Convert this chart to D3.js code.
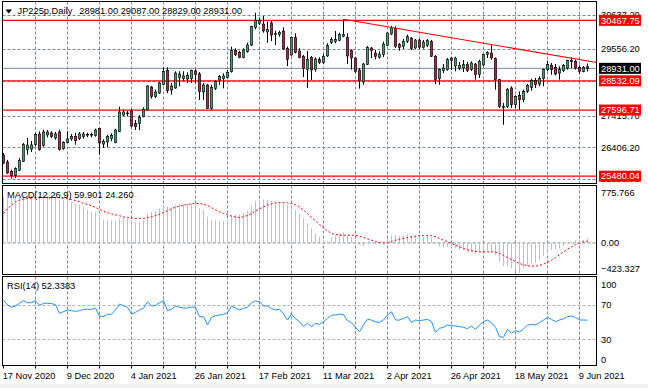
<!DOCTYPE html>
<html>
<head>
<meta charset="utf-8">
<script src="https://cdn.jsdelivr.net/npm/d3@7"></script>
<style>
body { margin: 0; background: #fff; }
svg { display: block; font-family: "Liberation Sans", Arial, sans-serif; font-size: 9.3px; }
</style>
</head>
<body>
<div id="chart"></div>
<script>
// JP225p daily, 17 Nov 2020 .. 11 Jun 2021 (one entry per trading day)
var symbol = "JP225p,Daily";
var tickLabels = ["17 Nov 2020", "9 Dec 2020", "4 Jan 2021", "26 Jan 2021", "17 Feb 2021",
                  "11 Mar 2021", "2 Apr 2021", "26 Apr 2021", "18 May 2021", "9 Jun 2021"];
var barsPerLabel = 16, barsPerGrid = 8;

var opens = [26158,25934,25636,25508,25668,25956,26330,26350,26488,26830,26468,26800,26862,26702,26894,26360,26564,26670,26756,26680,
  26744,26808,26820,26788,27000,26510,26574,26680,26552,26916,27438,27492,27566,27172,27172,27396,27608,28334,28036,28142,
  28408,28856,28238,28302,28644,28600,28590,28600,28850,28750,28174,28398,27652,28292,28558,28600,28644,28824,29496,29432,
  29284,29464,29678,30244,30372,30350,30094,30382,30030,30008,30126,29560,29358,29924,29486,29316,28900,29284,28900,29208,
  29112,29326,29752,29784,29828,29956,29924,29496,29262,28878,28494,29048,29582,29422,29284,29368,29668,30030,30200,29688,
  29636,29796,29902,29582,29838,29604,29668,29796,29316,28600,28856,28888,29262,29006,28942,28942,29048,28888,29070,28728,
  29038,29380,29422,29240,28568,27716,27716,28302,27768,28068,27928,28196,28324,28536,28430,28600,28888,29028,28964,28782,
  28856,28942,29176,29156,28964,28836,28981];
var highs = [26222,25998,25688,25764,26062,26542,26702,26606,26862,26916,26968,26958,26916,26894,26968,26596,26916,26830,26862,26894,
  26894,26872,26872,27000,27022,26660,26808,26852,27000,27704,27608,27566,27630,27278,27438,27684,28388,28366,28248,28494,
  28964,28964,28462,28836,28836,28836,28804,28888,28900,28814,28462,28430,28398,28558,28718,28772,28878,29624,29572,29496,
  29572,29752,30286,30712,30532,30606,30424,30456,30136,30136,30244,29624,29944,30052,29572,29358,29486,29326,29284,29284,
  29390,29732,29924,30126,30072,30500,30052,29540,29294,28942,29102,29646,29614,29518,29476,29784,30094,30286,30276,29742,
  29870,30008,29934,29870,29880,29838,29870,29838,29358,28920,29070,29262,29294,29304,29134,29198,29134,29156,29102,29208,
  29390,29476,29710,29284,28590,27822,28302,28356,28068,28196,28248,28430,28600,28622,28676,28920,29176,29102,29070,28996,
  29070,29208,29284,29208,29028,29006,29087];
var lows = [25870,25550,25400,25422,25646,25934,26168,26254,26436,26296,26424,26724,26702,26648,26296,26328,26542,26616,26488,26638,
  26680,26724,26724,26744,26168,26382,26404,26596,26532,26894,27396,27396,27044,26958,26958,27364,27576,27960,27982,28110,
  28388,28142,28088,28280,28356,28536,28462,28462,28462,27918,27918,27640,27598,28238,28398,28292,28612,28792,29326,29252,
  29252,29432,29646,30180,30318,30072,29752,29806,29678,29944,29518,29006,29316,29412,29252,28654,28302,28558,28824,29070,
  29070,29304,29710,29732,29796,29924,29070,28888,28792,28280,28408,29038,29262,29220,29240,29294,29646,29998,29582,29496,
  29550,29742,29518,29550,29550,29560,29614,29294,28430,28408,28782,28856,28878,28836,28878,28814,28814,28846,28568,28622,
  28996,29262,29208,28248,27662,27128,27662,27662,27662,27608,27854,28142,28216,28302,28356,28356,28836,28728,28708,28568,
  28814,28888,28942,28888,28750,28804,28829];
var closes = [25902,25582,25508,25720,25976,26488,26480,26478,26808,26328,26894,26894,26756,26830,26328,26552,26670,26756,26616,26830,
  26830,26820,26808,26958,26542,26596,26744,26788,26958,27534,27534,27502,27086,27064,27364,27608,28366,28036,28174,28462,
  28836,28216,28366,28782,28750,28686,28696,28856,28740,28196,28398,27652,28324,28504,28664,28686,28792,29496,29368,29284,
  29518,29678,30264,30456,30456,30126,30180,29998,30040,30084,29550,29220,29924,29444,29272,28932,29220,28878,29230,29112,
  29316,29668,29848,29860,30020,30008,29326,29262,28836,28536,29070,29604,29496,29316,29390,29710,30062,30222,29636,29604,
  29796,29944,29560,29838,29604,29774,29816,29316,28568,28888,28942,29208,29176,29262,29028,29048,28856,29102,28728,29156,
  29368,29444,29262,28568,27716,27684,28248,27768,28036,27928,28196,28388,28536,28408,28600,28888,29048,28888,28750,28888,
  29016,29176,29166,28942,28836,28964,28931];

var priceLevels = [30467.75, 28532.09, 27596.71, 25480.04];
var priceGrid = [30637.20, 29556.20, 28516.20, 27415.70, 26406.20, 25386.70];
var trendPoints = [[85, 30500], [146, 29166]];
var bid = 28931.00;

// MACD(12,26,9): main (histogram) and signal
var macdMain = [628,606,619,606,628,651,651,651,665,651,651,642,637,619,583,583,574,560,528,515,
  492,456,424,424,365,320,311,301,301,333,342,333,301,283,283,311,401,424,438,469,
  501,492,492,515,524,528,528,538,538,469,447,356,320,311,301,301,320,379,388,392,
  410,438,515,574,592,592,583,574,560,547,538,515,492,447,401,333,265,197,129,84,
  38,25,74,106,129,143,106,74,38,-30,-44,2,2,-16,-16,15,61,106,106,93,
  106,115,93,93,84,84,93,74,-7,-53,-62,-53,-62,-75,-89,-98,-121,-121,-143,-134,
  -121,-107,-121,-166,-257,-316,-316,-348,-380,-410,-348,-316,-280,-271,-234,-180,-134,-98,-89,-75,
  -44,-7,15,38,29,38,59.901];
var macdSignal = [401,469,515,560,583,597,606,610,615,619,619,619,619,619,615,610,601,592,578,560,
  538,524,506,483,460,433,410,397,383,370,356,347,338,333,333,333,342,356,374,392,
  415,438,465,488,501,515,524,533,538,538,528,510,479,451,424,401,383,365,351,347,
  356,374,401,433,465,492,515,533,547,551,551,547,538,519,492,447,401,347,301,252,
  206,165,129,115,106,106,106,106,102,93,74,56,38,20,6,2,6,20,38,52,
  61,74,84,93,97,102,102,97,84,61,38,15,-7,-30,-53,-75,-93,-107,-116,-121,
  -121,-121,-121,-125,-143,-171,-198,-225,-253,-280,-298,-311,-316,-316,-307,-289,-262,-234,-198,-162,
  -121,-84,-53,-25,-3,15,24.26];
var macdTicks = [775.766, 0, -423.327];

// RSI(14)
var rsiValues = [75.9,70.1,67.4,68.9,72.1,75.2,72.8,72.8,75.2,69.7,72.1,72.1,71.7,70.5,60.3,62.3,64.2,63.5,62.7,63.5,
  65.0,65.0,65.0,66.6,57.2,56.4,59.2,59.2,64.2,71.3,69.3,67.4,59.6,61.5,64.2,66.2,74.0,68.9,69.7,72.8,
  75.2,63.5,65.0,68.9,67.4,66.6,66.6,67.8,67.4,56.4,56.4,46.7,55.6,57.6,58.4,59.2,61.1,68.9,66.6,64.2,
  66.2,67.4,72.8,74.8,74.0,68.9,68.9,65.8,64.2,65.0,59.6,52.5,59.6,54.0,50.6,44.7,48.6,44.7,48.6,47.4,
  50.6,54.4,58.0,58.4,59.6,58.8,51.7,49.4,43.9,38.8,46.7,53.3,52.5,50.2,49.8,52.5,58.4,62.3,52.5,52.5,
  54.4,56.4,49.8,52.5,51.7,52.5,53.3,50.6,38.1,42.8,43.9,46.7,45.9,45.5,44.7,43.9,42.4,45.5,41.6,46.7,
  50.6,52.5,49.4,43.9,33.0,32.2,41.6,36.9,40.0,38.5,42.0,46.7,47.4,46.7,49.4,52.5,55.6,53.3,50.6,52.5,
  54.0,56.4,57.2,55.6,52.5,52.5,52.3383];
var rsiTicks = [100, 70, 30, 0];
var rsiLevels = [70, 30];

var W = 648, H = 388;
var plotLeft = 2.5, plotRight = 596.5, axisX = 601;
var panels = {
    main: {top: 1.5, bottom: 183.5},
    macd: {top: 185.5, bottom: 274.5},
    rsi: {top: 276.5, bottom: 365.5}
};
var bullColor = "#3a9e6c", bearColor = "#c01a43", gridColor = "#778899";

var n = opens.length;
var x = d3.scaleLinear().domain([0, n - 1]).range([3.5, 587.5]);
var yPrice = d3.scaleLinear().domain([25262, 31022]).range([183, 3]);
var yMacd = d3.scaleLinear().domain([-423.327, 775.766]).range([274, 186]);
var yRsi = d3.scaleLinear().domain([0, 100]).range([364.8, 279.5]);

var svg = d3.select("#chart").append("svg").attr("width", W).attr("height", H);
svg.append("rect").attr("width", W).attr("height", H).attr("fill", "#fff");
svg.append("rect").attr("x", 0).attr("y", 384).attr("width", W).attr("height", 4).attr("fill", "#f0f0f0");

var defs = svg.append("defs");
Object.keys(panels).forEach(function(k) {
    var p = panels[k];
    defs.append("clipPath").attr("id", "clip_" + k)
        .append("rect").attr("x", plotLeft).attr("y", p.top)
        .attr("width", plotRight - plotLeft).attr("height", p.bottom - p.top);
});

var gMain = svg.append("g").attr("clip-path", "url(#clip_main)");
var gMacd = svg.append("g").attr("clip-path", "url(#clip_macd)");
var gRsi = svg.append("g").attr("clip-path", "url(#clip_rsi)");

// vertical grid, every 8 bars
var gridBars = d3.range(barsPerGrid, n, barsPerGrid);
[[gMain, panels.main], [gMacd, panels.macd], [gRsi, panels.rsi]].forEach(function(pair) {
    pair[0].selectAll(".vgrid").data(gridBars).enter().append("line")
        .attr("x1", function(d) { return x(d); }).attr("x2", function(d) { return x(d); })
        .attr("y1", pair[1].top).attr("y2", pair[1].bottom)
        .attr("stroke", gridColor).attr("stroke-dasharray", "3,2");
});

// horizontal price grid
gMain.selectAll(".hgrid").data(priceGrid).enter().append("line")
    .attr("x1", plotLeft).attr("x2", plotRight)
    .attr("y1", function(d) { return Math.round(yPrice(d)) + 0.5; })
    .attr("y2", function(d) { return Math.round(yPrice(d)) + 0.5; })
    .attr("stroke", gridColor).attr("stroke-dasharray", "3,2");

// bid line
gMain.append("line").attr("x1", plotLeft).attr("x2", plotRight)
    .attr("y1", yPrice(bid)).attr("y2", yPrice(bid))
    .attr("stroke", gridColor);

// support / resistance levels
gMain.selectAll(".level").data(priceLevels).enter().append("line")
    .attr("x1", plotLeft).attr("x2", plotRight)
    .attr("y1", function(d) { return yPrice(d); }).attr("y2", function(d) { return yPrice(d); })
    .attr("stroke", "#f00").attr("stroke-width", 1.2);

// candles
var idx = d3.range(n);
gMain.selectAll(".wick").data(idx).enter().append("line")
    .attr("x1", function(i) { return x(i); }).attr("x2", function(i) { return x(i); })
    .attr("y1", function(i) { return yPrice(highs[i]); })
    .attr("y2", function(i) { return yPrice(lows[i]); })
    .attr("stroke", "#000");
gMain.selectAll(".body").data(idx).enter().append("rect")
    .attr("x", function(i) { return x(i) - 1.2; })
    .attr("width", 2.4)
    .attr("y", function(i) { return yPrice(Math.max(opens[i], closes[i])); })
    .attr("height", function(i) { return Math.max(0.8, Math.abs(yPrice(opens[i]) - yPrice(closes[i]))); })
    .attr("fill", function(i) { return closes[i] >= opens[i] ? bullColor : bearColor; })
    .attr("stroke", "#000").attr("stroke-width", 0.6);

// trend line from the March high, carried to the right edge
var tSlope = (trendPoints[1][1] - trendPoints[0][1]) / (trendPoints[1][0] - trendPoints[0][0]);
var tEnd = x.invert(plotRight);
gMain.append("line")
    .attr("x1", x(trendPoints[0][0])).attr("y1", yPrice(trendPoints[0][1]))
    .attr("x2", x(tEnd)).attr("y2", yPrice(trendPoints[0][1] + tSlope * (tEnd - trendPoints[0][0])))
    .attr("stroke", "#f00").attr("stroke-width", 1.1);

// MACD
gMacd.append("line").attr("x1", plotLeft).attr("x2", plotRight)
    .attr("y1", yMacd(0)).attr("y2", yMacd(0))
    .attr("stroke", gridColor).attr("stroke-dasharray", "3,2");
gMacd.selectAll(".hist").data(idx).enter().append("line")
    .attr("x1", function(i) { return x(i); }).attr("x2", function(i) { return x(i); })
    .attr("y1", yMacd(0)).attr("y2", function(i) { return yMacd(macdMain[i]); })
    .attr("stroke", "#c0c0c0");
gMacd.append("path").datum(idx)
    .attr("d", d3.line().x(function(i) { return x(i); }).y(function(i) { return yMacd(macdSignal[i]); }))
    .attr("fill", "none").attr("stroke", "#f00").attr("stroke-dasharray", "2,2");

// RSI
gRsi.selectAll(".rlevel").data(rsiLevels).enter().append("line")
    .attr("x1", plotLeft).attr("x2", plotRight)
    .attr("y1", function(d) { return Math.round(yRsi(d)) + 0.5; })
    .attr("y2", function(d) { return Math.round(yRsi(d)) + 0.5; })
    .attr("stroke", "#b4b4b4").attr("stroke-dasharray", "3,2");
gRsi.append("path").datum(idx)
    .attr("d", d3.line().x(function(i) { return x(i); }).y(function(i) { return yRsi(rsiValues[i]); }))
    .attr("fill", "none").attr("stroke", "#1e90ff");

// panel frames
Object.keys(panels).forEach(function(k) {
    var p = panels[k];
    svg.append("rect").attr("x", plotLeft).attr("y", p.top)
        .attr("width", plotRight - plotLeft).attr("height", p.bottom - p.top)
        .attr("fill", "none").attr("stroke", "#000");
});

// price axis
svg.selectAll(".plabel").data(priceGrid).enter().append("text")
    .attr("x", axisX).attr("y", function(d) { return yPrice(d) + 3.3; })
    .attr("fill", "#000").text(function(d) { return d.toFixed(2); });
svg.selectAll(".lvbox").data(priceLevels).enter().append("rect")
    .attr("x", 599).attr("y", function(d) { return yPrice(d) - 5.5; })
    .attr("width", 42).attr("height", 11).attr("fill", "#f00");
svg.selectAll(".lvtext").data(priceLevels).enter().append("text")
    .attr("x", axisX).attr("y", function(d) { return yPrice(d) + 3.3; })
    .attr("fill", "#fff").text(function(d) { return d.toFixed(2); });
svg.append("rect").attr("x", 599).attr("y", yPrice(bid) - 5.5)
    .attr("width", 42).attr("height", 11).attr("fill", "#000");
svg.append("text").attr("x", axisX).attr("y", yPrice(bid) + 3.3)
    .attr("fill", "#fff").text(bid.toFixed(2));

// MACD axis
svg.selectAll(".mlabel").data(macdTicks).enter().append("text")
    .attr("x", axisX)
    .attr("y", function(d, i) { return i === 0 ? yMacd(d) + 10 : (i === 2 ? yMacd(d) - 2.5 : yMacd(d) + 3.3); })
    .attr("fill", "#000").text(function(d) { return d === 0 ? "0.00" : d3.format(".3f")(d); });

// RSI axis
svg.selectAll(".rlabel").data(rsiTicks).enter().append("text")
    .attr("x", axisX)
    .attr("y", function(d) { return d === 100 ? yRsi(d) + 8.5 : (d === 0 ? yRsi(d) - 2.3 : yRsi(d) + 3.3); })
    .attr("fill", "#000").text(function(d) { return d; });

// time axis
var labelBars = tickLabels.map(function(d, i) { return i * barsPerLabel; });
svg.selectAll(".tick").data(d3.range(0, n, barsPerGrid)).enter().append("line")
    .attr("x1", function(d) { return x(d); }).attr("x2", function(d) { return x(d); })
    .attr("y1", panels.rsi.bottom).attr("y2", panels.rsi.bottom + 3)
    .attr("stroke", "#000");
svg.selectAll(".tlabel").data(labelBars).enter().append("text")
    .attr("x", function(d) { return x(d) - 0.8; }).attr("y", 379)
    .attr("fill", "#000").text(function(d, i) { return tickLabels[i]; });

// headers
svg.append("path").attr("d", "M5.5,9.5 L12,9.5 L8.75,13.5 Z").attr("fill", "#000");
svg.append("text").attr("x", 17.5).attr("y", 14).attr("fill", "#000").text(symbol);
svg.append("text").attr("x", 79.3).attr("y", 14).attr("fill", "#000")
    .text([opens[n - 1], highs[n - 1], lows[n - 1], closes[n - 1]].map(function(d) { return d.toFixed(2); }).join(" "));
svg.append("text").attr("x", 7).attr("y", 198).attr("fill", "#000")
    .text("MACD(12,26,9) " + d3.format(".3f")(macdMain[n - 1]) + " " + d3.format(".3f")(macdSignal[n - 1]));
svg.append("text").attr("x", 7).attr("y", 289).attr("fill", "#000")
    .text("RSI(14) " + rsiValues[n - 1].toFixed(4));
</script>
</body>
</html>
